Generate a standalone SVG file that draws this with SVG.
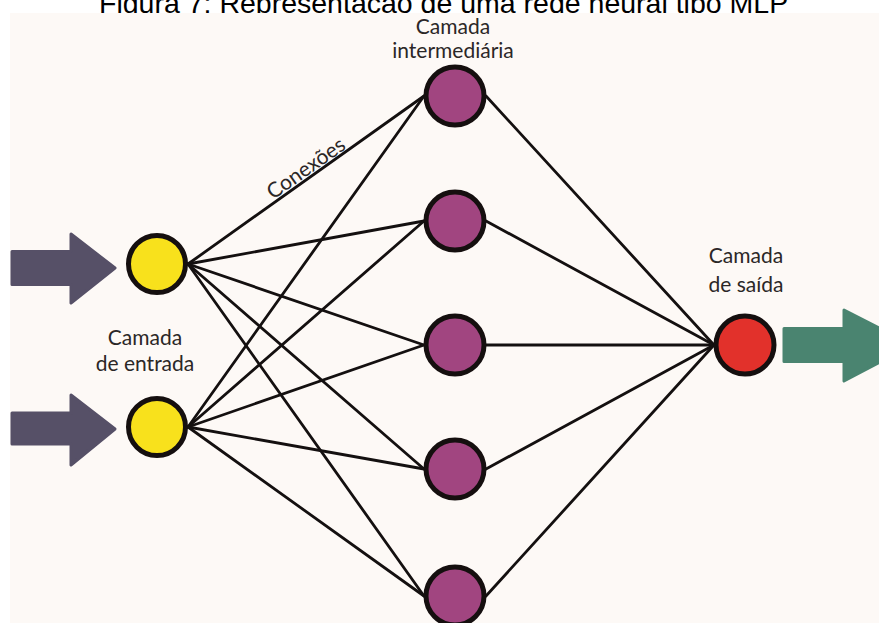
<svg xmlns="http://www.w3.org/2000/svg" width="879" height="623" viewBox="0 0 879 623">
<style>
.title{font-family:"Liberation Sans",Arial,sans-serif;font-size:28.5px;fill:#000}
.lbl{font-family:Lato,"Open Sans",sans-serif;font-size:21px;fill:#2b2727;text-anchor:middle}
.conn line{stroke:#141010;stroke-width:2.8;stroke-linecap:round}
.node{stroke:#150f0f;stroke-width:5}
.in{fill:#f8e11c}
.hid{fill:#a14580}
.out{fill:#e2312b}
.arrIn{fill:#565067;stroke:#565067;stroke-width:3;stroke-linejoin:round}
.arrOut{fill:#4a8470;stroke:#4a8470;stroke-width:3;stroke-linejoin:round}
</style>
<rect x="0" y="0" width="879" height="623" fill="#ffffff"/>
<text class="title" x="99" y="13">Figura 7: Representação de uma rede neural tipo MLP</text>
<rect x="10" y="13" width="869" height="610" fill="#fdf9f6"/>

<g id="connectors" class="conn">
  <line x1="188" y1="264" x2="424" y2="96"/>
  <line x1="188" y1="264" x2="424" y2="221"/>
  <line x1="188" y1="264" x2="424" y2="345"/>
  <line x1="188" y1="264" x2="424" y2="469"/>
  <line x1="188" y1="264" x2="424" y2="596"/>
  <line x1="188" y1="427" x2="424" y2="96"/>
  <line x1="188" y1="427" x2="424" y2="221"/>
  <line x1="188" y1="427" x2="424" y2="345"/>
  <line x1="188" y1="427" x2="424" y2="469"/>
  <line x1="188" y1="427" x2="424" y2="596"/>
  <line x1="486" y1="96" x2="714" y2="345"/>
  <line x1="486" y1="221" x2="714" y2="345"/>
  <line x1="486" y1="345" x2="714" y2="345"/>
  <line x1="486" y1="469" x2="714" y2="345"/>
  <line x1="486" y1="596" x2="714" y2="345"/>
</g>

<g id="arrow-in-1"><polygon class="arrIn" points="12,251.5 71,251.5 71,234 115,268 71,303 71,284.5 12,284.5"/></g>
<g id="arrow-in-2"><polygon class="arrIn" points="12,413 71,413 71,395 115,429 71,465 71,444 12,444"/></g>
<g id="arrow-out"><polygon class="arrOut" points="784,328.5 844,328.5 844,310 912,345 844,381 844,361.5 784,361.5"/></g>

<g id="input-1"><circle class="node in" cx="157" cy="264" r="28.5"/></g>
<g id="input-2"><circle class="node in" cx="157" cy="427" r="28.5"/></g>
<g id="hidden-1"><circle class="node hid" cx="455" cy="96" r="29"/></g>
<g id="hidden-2"><circle class="node hid" cx="455" cy="221" r="29"/></g>
<g id="hidden-3"><circle class="node hid" cx="455" cy="345" r="29"/></g>
<g id="hidden-4"><circle class="node hid" cx="455" cy="469" r="29"/></g>
<g id="hidden-5"><circle class="node hid" cx="455" cy="596" r="29"/></g>
<g id="output-1"><circle class="node out" cx="745" cy="345" r="29"/></g>

<g id="labels">
  <text class="lbl" x="453" y="34">Camada</text>
  <text class="lbl" x="453" y="58">intermediária</text>
  <text class="lbl" x="145" y="345">Camada</text>
  <text class="lbl" x="145" y="371">de entrada</text>
  <text class="lbl" x="746" y="263">Camada</text>
  <text class="lbl" x="746" y="292">de saída</text>
  <text class="lbl" transform="translate(310,174) rotate(-35)">Conexões</text>
</g>
</svg>
